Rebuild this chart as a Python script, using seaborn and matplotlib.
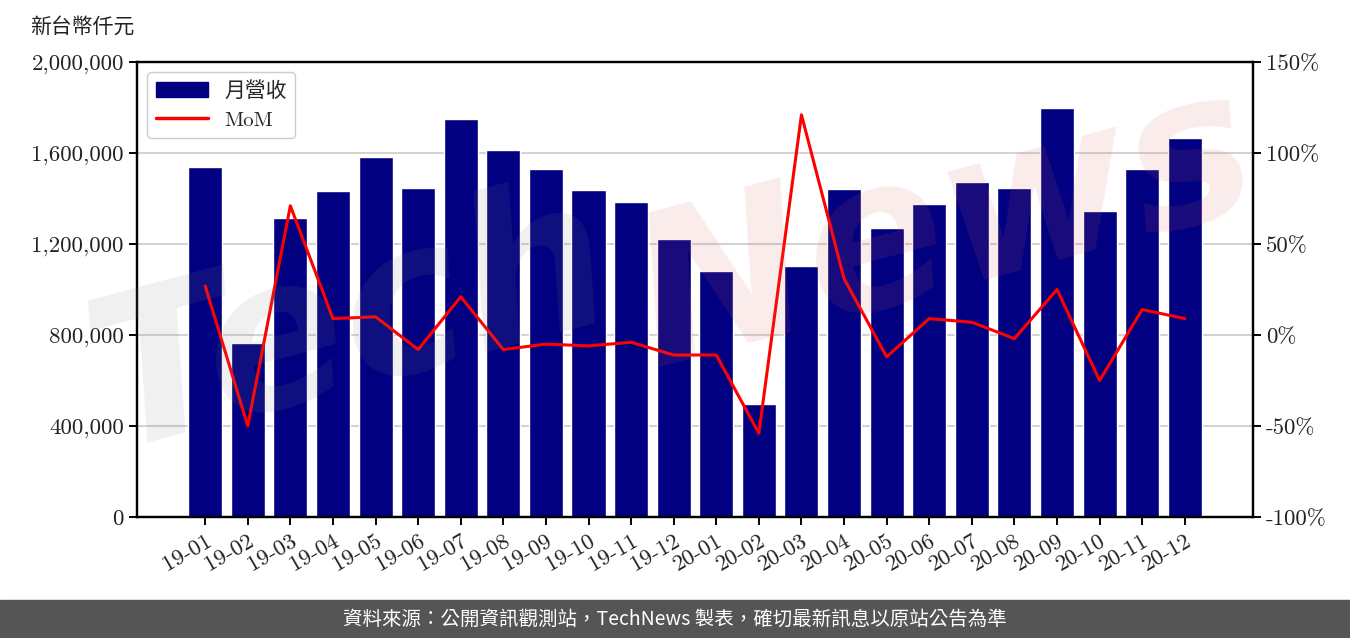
import matplotlib
matplotlib.use('Agg')
import matplotlib.pyplot as plt
import matplotlib.ticker as mticker
from matplotlib.patches import Rectangle
from matplotlib.lines import Line2D
import seaborn as sns
import pandas as pd

# data
months = ['19-01', '19-02', '19-03', '19-04', '19-05', '19-06', '19-07', '19-08',
          '19-09', '19-10', '19-11', '19-12', '20-01', '20-02', '20-03', '20-04',
          '20-05', '20-06', '20-07', '20-08', '20-09', '20-10', '20-11', '20-12']
revenue = [1538000, 765000, 1314000, 1433000, 1582000, 1446000, 1749000, 1613000,
           1530000, 1437000, 1385000, 1222000, 1081000, 497000, 1103000, 1442000,
           1270000, 1376000, 1473000, 1446000, 1798000, 1345000, 1530000, 1666000]
mom = [27, -50, 71, 9, 10, -8, 21, -8,
       -5, -6, -4, -11, -11, -54, 121, 31,
       -12, 9, 7, -2, 25, -25, 14, 9]

df = pd.DataFrame({'month': months, 'revenue': revenue, 'mom': mom})
df['pos'] = range(len(df))

sns.set_style('white')
plt.rcParams['font.family'] = ['cmr10', 'Noto Sans CJK TC', 'DejaVu Sans']
plt.rcParams['axes.unicode_minus'] = False

fig = plt.figure(figsize=(13.5, 6.38), dpi=100)
ax = fig.add_axes([0.1015, 0.1897, 0.8266, 0.7131])

sns.barplot(data=df, x='pos', y='revenue', color='#000080', saturation=1,
            width=0.8, ax=ax, zorder=2)
ax.set_axisbelow(True)
ax.yaxis.grid(True, color='#d3d3d3', linewidth=1.5)
ax.set_ylim(0, 2000000)
ax.set_yticks(range(0, 2000001, 400000))
ax.yaxis.set_major_formatter(mticker.FuncFormatter(lambda v, p: f'{int(v):,}'))
ax.set_xlim(-1.6, 24.6)
ax.set_xticks(df['pos'])
ax.set_xticklabels(months, rotation=30, ha='right', rotation_mode='anchor')
ax.set_xlabel('')
ax.set_ylabel('')

ax2 = ax.twinx()
sns.lineplot(data=df, x='pos', y='mom', color='red', linewidth=2.2, ax=ax2)
ax2.set_ylim(-100, 150)
ax2.set_yticks(range(-100, 151, 50))
ax2.yaxis.set_major_formatter(mticker.FuncFormatter(lambda v, p: f'{int(v)}%'))
ax2.set_ylabel('')
ax2.set_xlim(-1.6, 24.6)

for a in (ax, ax2):
    for s in a.spines.values():
        s.set_color('black')
        s.set_linewidth(1.6)
    a.tick_params(axis='both', labelsize=16.5, length=6, width=1.4, color='black',
                  direction='out', colors='#222222')
ax.tick_params(axis='x', pad=4)
ax.tick_params(bottom=True, left=True)
ax2.tick_params(right=True)

handles = [Rectangle((0, 0), 1, 1, color='#000080'),
           Line2D([0], [0], color='red', linewidth=2.5)]
ax2.legend(handles, ['月營收', 'MoM'], loc='upper left', fontsize=15,
           frameon=True, edgecolor='#cccccc', fancybox=True, framealpha=1,
           borderpad=0.4, handlelength=2.5)

fig.text(0.022, 0.958, '新台幣仟元', fontsize=15, va='center', ha='left',
         family=['Noto Sans CJK TC'], color='#222222')

# watermark
fig.text(0.26, 0.49, 'Tech', fontsize=150, rotation=15, ha='center', va='center',
         color='#808080', alpha=0.12, style='italic', family=['DejaVu Sans'],
         fontweight='bold', zorder=10)
fig.text(0.70, 0.64, 'News', fontsize=150, rotation=15, ha='center', va='center',
         color='#e06060', alpha=0.12, style='italic', family=['DejaVu Sans'],
         fontweight='bold', zorder=10)

# footer band
fig.patches.append(Rectangle((0, 0), 1, 38 / 638, transform=fig.transFigure,
                             color='#555555', zorder=0))
fig.text(0.5, 19 / 638, '資料來源：公開資訊觀測站，TechNews 製表，確切最新訊息以原站公告為準',
         ha='center', va='center', color='white', fontsize=14,
         family=['Noto Sans CJK TC'])

fig.savefig('out.png', dpi=100)
